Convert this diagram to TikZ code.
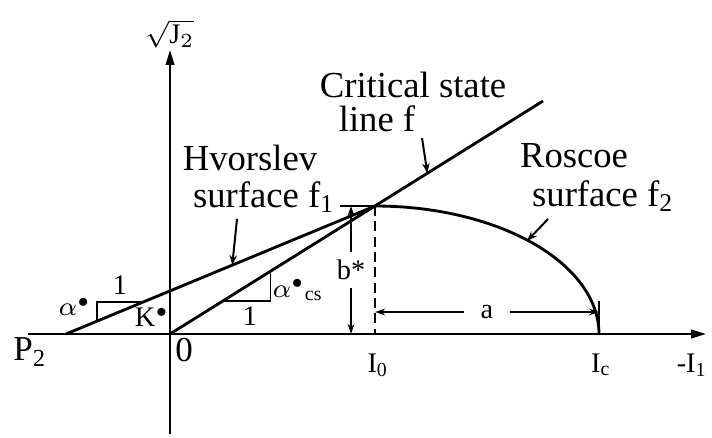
\documentclass[tikz,border=0pt]{standalone}
\usepackage{fontspec}
\setmainfont{Liberation Serif}
\usetikzlibrary{arrows.meta,positioning,calc}
\newcommand{\sdot}{^{\scriptscriptstyle\bullet}}

\begin{document}
\begin{tikzpicture}[x=0.3pt,y=-0.3pt,
  axis/.style={-{Triangle[length=4.5pt,width=2.6pt]},line width=0.55pt},
  curve/.style={line width=0.85pt},
  thin line/.style={line width=0.5pt},
  lead/.style={-{Stealth[length=3pt,width=2.2pt]},line width=0.6pt},
  dim/.style={{Stealth[length=3pt,width=2pt]}-{Stealth[length=3pt,width=2pt]},line width=0.5pt},
  big/.style={font=\fontsize{11}{13}\selectfont,inner sep=0pt},
  mid/.style={font=\fontsize{10.5}{12}\selectfont,inner sep=0pt},
  sml/.style={font=\fontsize{8.5}{10}\selectfont,inner sep=0pt}]
  \useasboundingbox (0,0) rectangle (712,437);
  \coordinate (O) at (170,334);
  \coordinate (yb) at (170,434);
  \coordinate (yt) at (170,50);
  \coordinate (xl) at (28,334);
  \coordinate (xr) at (706,334);
  \coordinate (H) at (66,334);
  \coordinate (P) at (375,206);
  \coordinate (I0) at (375,334);
  \coordinate (Ic) at (599,334);
  \coordinate (C) at (543,101);
  \draw[axis] (yb) -- (yt);
  \draw[axis] (xl) -- (xr);
  \draw[curve] (O) -- (C);
  \draw[curve] (H) -- (P);
  \draw[curve] plot[domain=0:90,samples=60] ({375+224*cos(\x)},{334-128*sin(\x)});
  \draw[thin line,dashed,dash pattern=on 3pt off 1.6pt] (P) -- (I0);
  \coordinate (h1) at ($(H)!0.1!(P)$);
  \coordinate (h2) at ($(H)!0.25!(P)$);
  \draw[thin line] (h1) |- (h2);
  \coordinate (c1) at ($(O)!0.26!(P)$);
  \coordinate (c2) at ($(O)!0.49!(P)$);
  \draw[thin line] (c1) -| (c2);
  \coordinate (bx) at (340,206);
  \coordinate (bt) at (351,206);
  \coordinate (bb) at (351,334);
  \draw[thin line] (bx) -- (P);
  \draw[dim] (bb) -- node[sml,fill=white,inner ysep=2.5pt]{b*} (bt);
  \coordinate (a1) at (375,312);
  \coordinate (a2) at (599,312);
  \coordinate (at) at (599,301);
  \draw[thin line] (at) -- (Ic);
  \draw[dim] (a1) -- node[sml,fill=white,inner xsep=5pt]{a} (a2);
  \coordinate (csl tail) at (422,138);
  \coordinate (hvo tail) at (237,219);
  \coordinate (ros tail) at (548,219);
  \coordinate (ros tip) at (527,241);
  \draw[lead] (csl tail) -- ($(O)!0.69!(C)$);
  \draw[lead] (hvo tail) -- ($(H)!0.538!(P)$);
  \draw[lead] (ros tail) -- (ros tip);
  \node[sml] (sqj) at (170,34) {$\sqrt{\mathrm{J}_2}$};
  \node[big] (crit) at (413,85) {Critical state};
  \node[big] (critf) at (377,119) {line f};
  \node[big] (hvo) at (250,158) {Hvorslev};
  \node[big] (hvof) at (264,197) {surface f\textsubscript{1}};
  \node[big] (ros) at (574,156) {Roscoe};
  \node[big] (rosf) at (603,196) {surface f\textsubscript{2}};
  \node[mid] (p2) at (30,352) {P\textsubscript{2}};
  \node[mid] (zero) at (184,350) {0};
  \node[sml] (izero) at (378,365) {I\textsubscript{0}};
  \node[sml] (ic) at (601,365) {I\textsubscript{c}};
  \node[sml] (ione) at (692,365) {-I\textsubscript{1}};
  \node[sml] (alpha) at (75,307) {$\alpha\sdot$};
  \node[sml] (kay) at (152,317) {K$\sdot$};
  \node[sml] (oneh) at (120,285) {1};
  \node[sml] (alphacs) at (298,290) {$\alpha\sdot{}_{\mathrm{cs}}$};
  \node[sml] (onec) at (250,316) {1};
\end{tikzpicture}
\end{document}
